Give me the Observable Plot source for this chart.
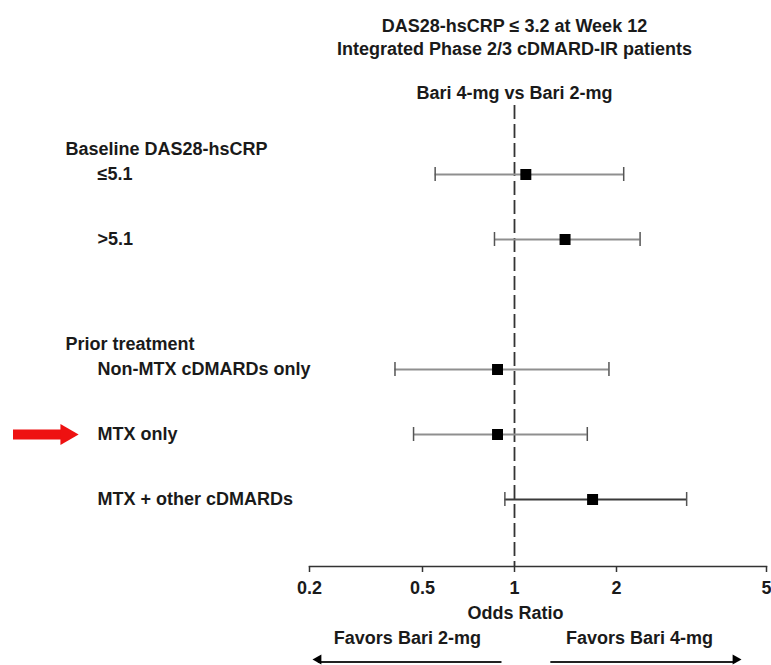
<!DOCTYPE html>
<html>
<head>
<meta charset="utf-8">
<script src="https://cdn.jsdelivr.net/npm/d3@7"></script>
<script src="https://cdn.jsdelivr.net/npm/@observablehq/plot@0.6"></script>
<style>
  html, body { margin: 0; padding: 0; background: #fff; }
  #chart svg { display: block; }
</style>
</head>
<body>
<div id="chart"></div>
<script>
// ---- data ----
const titleLines = ["DAS28-hsCRP ≤ 3.2 at Week 12", "Integrated Phase 2/3 cDMARD-IR patients"];
const comparison = "Bari 4-mg vs Bari 2-mg";
const groups = ["Baseline DAS28-hsCRP", "Prior treatment"];
const rowGroup = ["Baseline DAS28-hsCRP", "Baseline DAS28-hsCRP", "Prior treatment", "Prior treatment", "Prior treatment"];
const rowLabels = ["≤5.1", ">5.1", "Non-MTX cDMARDs only", "MTX only", "MTX + other cDMARDs"];
const oddsRatio = [1.08, 1.41, 0.88, 0.88, 1.70];
const ciLow    = [0.55, 0.86, 0.40, 0.465, 0.93];
const ciHigh   = [2.09, 2.31, 1.90, 1.64, 3.07];
const highlighted = "MTX only";
const xTicks = [0.2, 0.5, 1, 2, 5];
const xTickLabels = ["0.2", "0.5", "1", "2", "5"];
const xLabel = "Odds Ratio";
const favorsText = ["Favors Bari 2-mg", "Favors Bari 4-mg"];
const favorsFrom = [0.91, 1.28];
const favorsTo = [0.215, 4.14];

// ---- tables built from the arrays ----
const rows = rowLabels.map((label, i) => ({label, group: rowGroup[i], or: oddsRatio[i], lo: ciLow[i], hi: ciHigh[i]}));
const headers = groups.map(g => ({group: g, first: rows.find(r => r.group === g).label}));
const yDomain = [rowLabels[0], rowLabels[1], " ", rowLabels[2], rowLabels[3], rowLabels[4]];
const favors = favorsText.map((t, i) => ({text: t, from: favorsFrom[i], to: favorsTo[i], dir: favorsTo[i] < favorsFrom[i] ? -1 : 1}));

const FONT = "'Liberation Sans', Arial, sans-serif";
const INK = "#1a1a1a";
const txt = {fill: INK, fontSize: 18, fontWeight: "bold"};

const chart = Plot.plot({
  width: 771,
  height: 665,
  marginTop: 105,
  marginBottom: 99,
  marginLeft: 309,
  marginRight: 5,
  style: {fontFamily: FONT, fontSize: "18px", fontWeight: "bold", color: INK, background: "#fff", overflow: "visible"},
  x: {type: "log", domain: xTicks, range: [309, 422, 514, 616, 766], axis: null},
  y: {type: "point", domain: yDomain, range: [172, 501], padding: 0, axis: null},
  marks: [
    // axis line + ticks + labels
    Plot.frame({anchor: "bottom", stroke: "#333", strokeWidth: 1.5}),
    Plot.ruleX(xTicks, {x: d => d, stroke: "#333", strokeWidth: 1.5, insetTop: 461, insetBottom: -6}),
    Plot.text(xTicks, {x: d => d, text: (d, i) => xTickLabels[i], frameAnchor: "bottom", dy: 27, ...txt}),
    Plot.text([xLabel], {frameAnchor: "bottom-left", dx: 206, dy: 52, textAnchor: "middle", ...txt}),

    // reference line at OR = 1
    Plot.ruleX([1], {stroke: "#333", strokeWidth: 1.8, strokeDasharray: "14,5"}),

    // CI lines
    Plot.ruleY(rows, {y: "label", x1: "lo", x2: "hi",
      stroke: d => d.label === rowLabels[rowLabels.length - 1] ? "#3a3a3a" : "#8f8f8f", strokeWidth: 2.2}),
    Plot.ruleX(rows, {x: "lo", y1: "label", y2: "label", stroke: "#555", strokeWidth: 1.5, insetTop: -7, insetBottom: -7}),
    Plot.ruleX(rows, {x: "hi", y1: "label", y2: "label", stroke: "#555", strokeWidth: 1.5, insetTop: -7, insetBottom: -7}),
    // point estimates
    Plot.dot(rows, {x: "or", y: "label", symbol: "square", r: 6.2, fill: "#000", stroke: null}),

    // row labels + group headers
    Plot.text(rows, {y: "label", text: "label", frameAnchor: "left", dx: -212, textAnchor: "start", ...txt}),
    Plot.text(headers, {y: "first", text: "group", frameAnchor: "left", dx: -244, dy: -25, textAnchor: "start", ...txt}),

    // titles
    Plot.text([titleLines[0]], {frameAnchor: "top-left", dx: 205, dy: -86, textAnchor: "middle", ...txt}),
    Plot.text([titleLines[1]], {frameAnchor: "top-left", dx: 205, dy: -63, textAnchor: "middle", ...txt}),
    Plot.text([comparison], {frameAnchor: "top-left", dx: 205, dy: -19, textAnchor: "middle", ...txt}),

    // red highlight arrow
    Plot.ruleY([highlighted], {y: d => d, stroke: "#ee1111", strokeWidth: 10, insetLeft: -296, insetRight: 704}),
    Plot.dot([highlighted], {y: d => d, frameAnchor: "left", dx: -243, symbol: "triangle", rotate: 90, r: 7.8,
      fill: "#ee1111", stroke: null}),

    // favors arrows
    Plot.ruleY(favors, {x1: "from", x2: "to", y: null, dy: 326, stroke: "#222", strokeWidth: 1.8}),
    Plot.dot(favors, {x: "to", y: null, frameAnchor: "bottom", dy: 93, symbol: "triangle",
      rotate: d => d.dir * 90, r: 3.8, fill: "#000", stroke: null}),
    Plot.text(favors, {x: d => Math.sqrt(d.from * d.to), text: "text", frameAnchor: "bottom", dy: 77, ...txt})
  ]
});

document.getElementById("chart").appendChild(chart);
</script>
</body>
</html>
